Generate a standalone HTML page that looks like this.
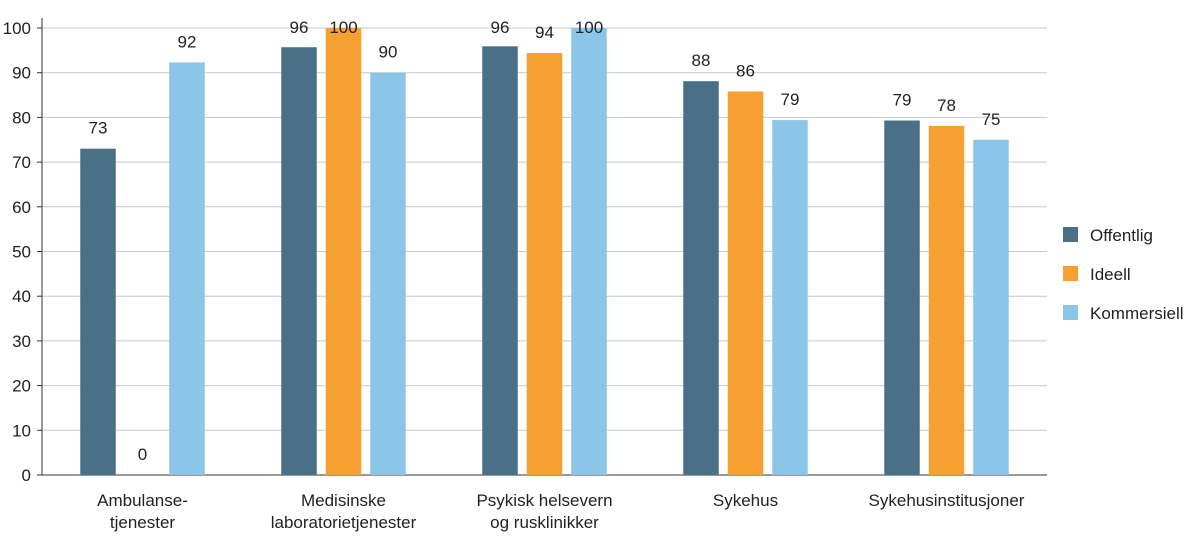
<!DOCTYPE html>
<html><head><meta charset="utf-8">
<style>
body{margin:0;background:#fff;}
svg{display:block;font-family:"Liberation Sans",sans-serif;}
</style></head>
<body>
<svg id="chart" width="1200" height="555" viewBox="0 0 1200 555"></svg>
<script>
const categories=[["Ambulanse-","tjenester"],["Medisinske","laboratorietjenester"],["Psykisk helsevern","og rusklinikker"],["Sykehus"],["Sykehusinstitusjoner"]];
const seriesNames=["Offentlig","Ideell","Kommersiell"];
const offentlig=[73,95.7,95.9,88.1,79.3];
const ideell=[0,100,94.4,85.8,78.1];
const kommersiell=[92.3,90,100,79.4,75];
const yTicks=[0,10,20,30,40,50,60,70,80,90,100];
const series=[offentlig,ideell,kommersiell];
const colors=["#4a7088","#f6a032","#8bc6e9"];
const svg=document.getElementById('chart');
const NS="http://www.w3.org/2000/svg";
const L=42,R=1047,T=28,B=475,yMax=100;
function y(v){return B-(v/yMax)*(B-T);}
const gw=(R-L)/categories.length;
function gx(i){return L+gw*i+gw/2;}
const bw=35.5,step=44.5;
function mk(tag,attrs){const e=document.createElementNS(NS,tag);for(const k in attrs)e.setAttribute(k,attrs[k]);svg.appendChild(e);return e;}
yTicks.forEach(t=>{
  const g=mk('line',{x1:L,x2:R,y1:y(t),y2:y(t),stroke:t===0?'#333':'#c8c8c8','stroke-width':1});
  
  
  const tk=mk('line',{x1:L-5,x2:L,y1:y(t),y2:y(t),stroke:'#333'});
  
  
  const tx=mk('text',{x:L-11,y:y(t)+6,'text-anchor':'end','font-size':17,fill:'#222'});
  tx.textContent=t;
  
  
});
const ax=mk('line',{x1:L,x2:L,y1:T-10,y2:B,stroke:'#333'});


categories.forEach((c,i)=>{
  series.forEach((s,j)=>{
    const cx=gx(i)+(j-1)*step;
    const r=mk('rect',{x:cx-bw/2,y:y(s[i]),width:bw,height:B-y(s[i]),fill:colors[j]});
    
    
    const ly=Math.max(y(s[i])-15,33);
    const lb=mk('text',{x:cx,y:ly,'text-anchor':'middle','font-size':17,fill:'#222'});
    lb.textContent=Math.round(s[i]);
    
    
  });
  c.forEach((line,k)=>{
    const t=mk('text',{x:gx(i),y:506+k*22,'text-anchor':'middle','font-size':17,fill:'#222'});
    t.textContent=line;
    
    
  });
});
seriesNames.forEach((n,j)=>{
  const yy=235+j*39;
  const r=mk('rect',{x:1063,y:yy-8,width:15,height:15,fill:colors[j]});
  
  
  const t=mk('text',{x:1090,y:yy+6,'font-size':17,fill:'#222'});
  t.textContent=n;
  
  
});
</script>
</body></html>
